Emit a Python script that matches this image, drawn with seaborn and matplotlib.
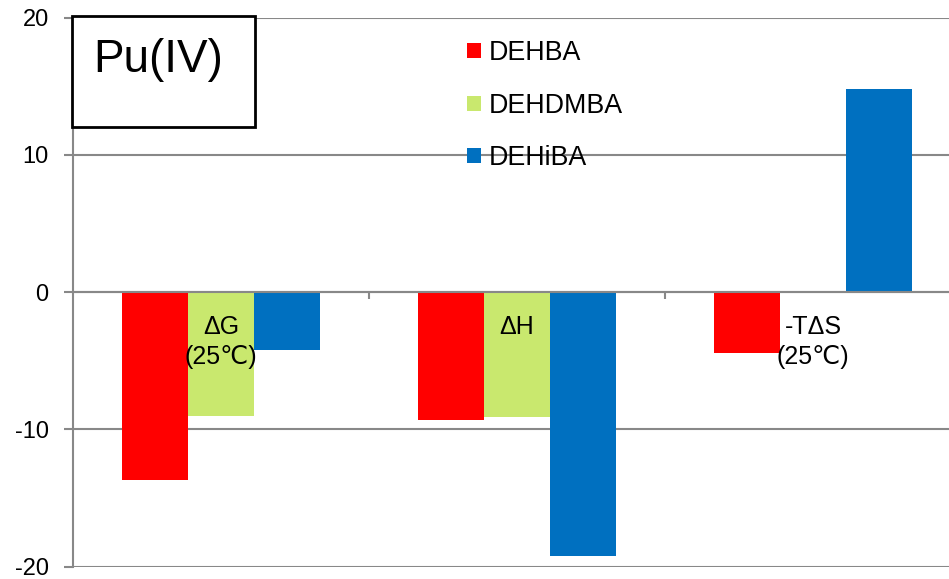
import matplotlib
matplotlib.use("Agg")
import matplotlib.pyplot as plt
import matplotlib.patches as mpatches
import seaborn as sns
import pandas as pd

# ---- data ----
categories = ["ΔG\n(25℃)", "ΔH", "-TΔS\n(25℃)"]
series = ["DEHBA", "DEHDMBA", "DEHiBA"]
dehba = [-13.7, -9.3, -4.4]
dehdmba = [-9.0, -9.1, 0.1]
dehiba = [-4.2, -19.2, 14.8]
colors = ["#FF0000", "#C9E86E", "#0070C0"]
yticks = [-20, -10, 0, 10, 20]

rows = []
for name, vals in zip(series, [dehba, dehdmba, dehiba]):
    for c, v in zip(categories, vals):
        rows.append({"cat": c, "val": v, "ext": name})
df = pd.DataFrame(rows)

sns.set_theme(style="white")
plt.rcParams["font.family"] = ["Liberation Sans", "DejaVu Sans"]

W, H = 949, 579
fig = plt.figure(figsize=(W / 100, H / 100), dpi=100)
ax = fig.add_axes([73 / W, (H - 566.7) / H, (W - 73) / W, (566.7 - 17.5) / H])
ax.set_axisbelow(True)

sns.barplot(data=df, x="cat", y="val", hue="ext", hue_order=series,
            order=categories, palette=colors, saturation=1, width=0.67,
            ax=ax, errorbar=None, linewidth=0)

ax.set_ylim(-20, 20)
ax.set_xlim(-0.5, 2.459)
ax.set_yticks(yticks)
ax.set_yticklabels([str(t) for t in yticks], fontsize=17, color="black")
ax.tick_params(axis="y", length=6.5, width=1.5, color="#888888", pad=11, left=True)
ax.grid(axis="y", color="#888888", linewidth=1.5)
ax.grid(axis="x", visible=False)
ax.set_xlabel("")
ax.set_ylabel("")

for s in ["top", "right"]:
    ax.spines[s].set_visible(False)
ax.spines["left"].set_color("#888888")
ax.spines["left"].set_linewidth(1.5)
ax.spines["bottom"].set_position(("data", 0))
ax.spines["bottom"].set_color("#888888")
ax.spines["bottom"].set_linewidth(1.5)
ax.set_xticks([0.5, 1.5])
ax.set_xticklabels(["", ""])
ax.tick_params(axis="x", length=5, width=1.5, color="#888888", bottom=True, direction="out")

# category labels placed near the zero axis
for i, c in enumerate(categories):
    ax.text(i, -1.7, c, ha="center", va="top", fontsize=18, color="black",
            linespacing=1.3, zorder=10)

# legend
leg = ax.legend(frameon=False, loc="upper left", bbox_to_anchor=(443 / W, 1 - 16 / H),
                bbox_transform=fig.transFigure, fontsize=19.3, handlelength=0.5,
                handleheight=0.5, handletextpad=0.3, labelspacing=0.99)
for t in leg.get_texts():
    t.set_color("black")

# Pu(IV) box
rect = mpatches.Rectangle((72 / W, 1 - 127 / H), (255 - 72) / W, (127 - 16) / H,
                          transform=fig.transFigure, fill=True, facecolor="white",
                          edgecolor="black", linewidth=2, zorder=5)
fig.patches.append(rect)
fig.text(93 / W, 1 - 72 / H, "Pu(IV)", fontsize=33, ha="left", va="baseline",
         color="black", zorder=6)

fig.savefig("out.png", dpi=100)
